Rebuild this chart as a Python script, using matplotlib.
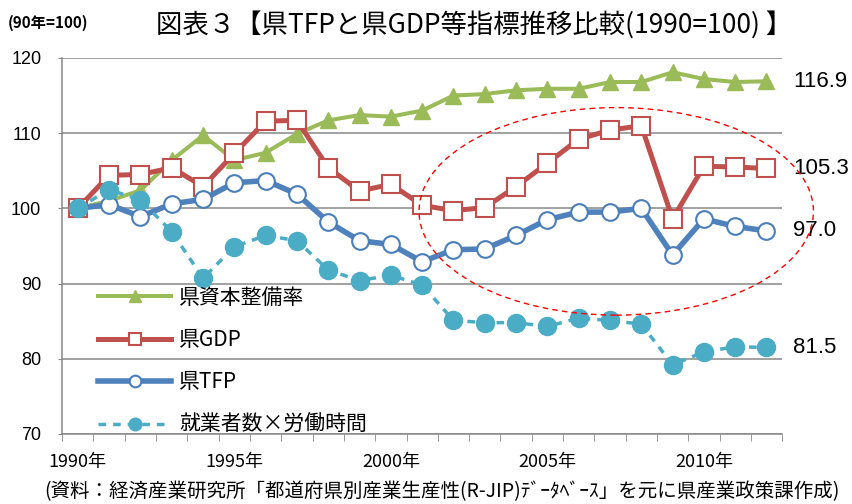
import matplotlib
matplotlib.use("Agg")
import matplotlib.pyplot as plt
from matplotlib.patches import Ellipse

plt.rcParams['font.family'] = ['Noto Sans CJK JP', 'DejaVu Sans']

years = list(range(1990, 2013))
capital = [100.0, 101.0, 102.4, 106.4, 109.7, 106.4, 107.4, 109.9, 111.7, 112.4, 112.2,
           113.0, 115.0, 115.2, 115.7, 115.9, 115.9, 116.8, 116.8, 118.1, 117.2, 116.8, 116.9]
gdp = [100.0, 104.4, 104.5, 105.4, 102.9, 107.3, 111.6, 111.7, 105.4, 102.3, 103.2,
       100.4, 99.7, 100.1, 102.9, 106.0, 109.2, 110.4, 111.0, 98.6, 105.6, 105.5, 105.3]
tfp = [100.0, 100.5, 98.9, 100.6, 101.2, 103.4, 103.7, 101.9, 98.2, 95.7, 95.2,
       92.9, 94.5, 94.6, 96.4, 98.5, 99.5, 99.5, 100.0, 93.8, 98.6, 97.6, 97.0]
labor = [100.0, 102.5, 101.1, 96.9, 90.7, 94.9, 96.4, 95.7, 91.8, 90.4, 91.1,
         89.8, 85.1, 84.8, 84.8, 84.3, 85.4, 85.1, 84.6, 79.2, 80.9, 81.6, 81.5]

series_names = ["県資本整備率", "県GDP", "県TFP", "就業者数×労働時間"]
end_labels = ["116.9", "105.3", "97.0", "81.5"]
xtick_years = [1990, 1995, 2000, 2005, 2010]
yticks = [70, 80, 90, 100, 110, 120]

fig = plt.figure(figsize=(8.52, 5.04), dpi=100)
ax = fig.add_axes([0.073, 0.139, 0.845, 0.746])

grid_c = "#888888"
for y in yticks:
    ax.axhline(y, color=grid_c, lw=1.1, zorder=0)

ax.plot(years, capital, color="#9BBB59", lw=2.9, marker="^", ms=12,
        mfc="#9BBB59", mec="#9BBB59", label=series_names[0], zorder=2)
ax.plot(years, gdp, color="#C0504D", lw=3.6, marker="s", ms=13,
        mfc="white", mec="#C0504D", mew=1.5, label=series_names[1], zorder=3)
ax.plot(years, tfp, color="#4F81BD", lw=4.0, marker="o", ms=12,
        mfc="white", mec="#4A7EBB", mew=1.5, label=series_names[2], zorder=4)
ax.plot(years, labor, color="#4BACC6", lw=2.5, ls=(0, (2.2, 2.0)), marker="o", ms=13,
        mfc="#4BACC6", mec="#4BACC6", label=series_names[3], zorder=5)

ell = Ellipse((2007.2, 99.6), 12.6, 27.6, fill=False, edgecolor="red",
              lw=1.0, ls=(0, (4, 3)), clip_on=False, zorder=6)
ax.add_patch(ell)

for val, txt in zip([capital[-1], gdp[-1], tfp[-1], labor[-1]], end_labels):
    ax.text(2012.85, val, txt, fontsize=16, va="center", ha="left",
            family=["Liberation Sans", "DejaVu Sans"], clip_on=False)

ax.set_xlim(1989.5, 2012.5)
ax.set_ylim(70, 120)
ax.set_yticks(yticks)
ax.set_yticklabels([str(v) for v in yticks], fontsize=13,
                   family=["Liberation Sans", "DejaVu Sans"])
ax.tick_params(axis="y", length=3, color=grid_c, pad=12)
ax.set_xticks(xtick_years)
ax.set_xticklabels([f"{y}年" for y in xtick_years], fontsize=13)
ax.set_xticks([y - 0.5 for y in years] + [2012.5], minor=True)
ax.tick_params(axis="x", which="major", length=0, pad=14)
ax.tick_params(axis="x", which="minor", length=5, color=grid_c, direction="out")

for side in ("top", "right"):
    ax.spines[side].set_visible(False)
for side in ("left", "bottom"):
    ax.spines[side].set_color(grid_c)
    ax.spines[side].set_linewidth(1.1)

ax.legend(loc="upper left", bbox_to_anchor=(0.05, 0.392), frameon=False,
          fontsize=15, handlelength=3.5, labelspacing=0.98, borderpad=0,
          borderaxespad=0, handletextpad=0.4, markerscale=0.7)

fig.text(0.009, 0.955, "(90年=100)", fontsize=11, fontweight="bold", va="center", ha="left")
fig.text(0.556, 0.950, "図表３【県TFPと県GDP等指標推移比較(1990=100) 】",
         fontsize=19, va="center", ha="center")
fig.text(0.519, 0.024, "(資料：経済産業研究所「都道府県別産業生産性(R-JIP)ﾃﾞｰﾀﾍﾞｰｽ」を元に県産業政策課作成)",
         fontsize=14, va="center", ha="center")

fig.savefig("out.png", dpi=100)
